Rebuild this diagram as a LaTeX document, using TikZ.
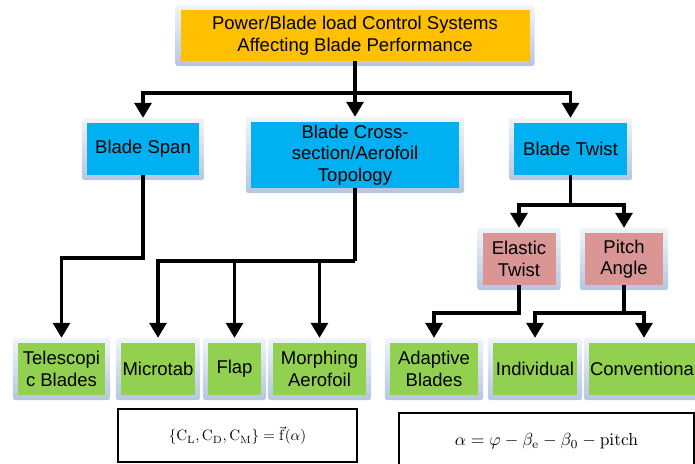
\documentclass[tikz,border=0pt]{standalone}
\usepackage[no-math]{fontspec}
\setmainfont{Liberation Sans}
\usepackage{amsmath}
\usepackage{graphicx}
\usepackage{tikz}
\usetikzlibrary{arrows.meta, positioning, calc, backgrounds}
\definecolor{topfill}{HTML}{FFC000}
\definecolor{bluefill}{HTML}{00B0F0}
\definecolor{rosefill}{HTML}{D99694}
\definecolor{greenfill}{HTML}{92D050}
\definecolor{glowtop}{HTML}{F1F4F9}
\definecolor{glowbot}{HTML}{B4C6DF}
\tikzstyle{box}     = [rectangle, draw=none, minimum height=52pt, align=center, inner sep=1pt,
                       font=\fontsize{18.5}{21.5}\selectfont]
\tikzstyle{headbox} = [box, fill=topfill,   minimum width=349pt, minimum height=51pt]
\tikzstyle{branch}  = [box, fill=bluefill]
\tikzstyle{twistbox}= [box, fill=rosefill]
\tikzstyle{leaf}    = [box, fill=greenfill]
\tikzstyle{eqbox}   = [rectangle, draw=black, line width=1.3pt, fill=white]
\tikzstyle{glow}    = [rounded corners=3pt, top color=glowtop, bottom color=glowbot]
\tikzstyle{arrow}   = [line width=3.2pt, -{Triangle[width=17pt,length=15pt]}, shorten >=5pt]
\tikzstyle{link}    = [line width=3.2pt]
\newcommand{\eqtext}[2]{\scalebox{#1}{#2}}

\begin{document}
\begin{tikzpicture}[x=1pt, y=-1pt]
  \useasboundingbox (0,0) rectangle (695,463);
  \clip (0,0) rectangle (695,463);

  % top level
  \node[headbox] (top) at (355,35.5) {Power/Blade load Control Systems\\Affecting Blade Performance};

  % second level
  \node[branch, minimum width=112pt] (span)  at (143,149) {Blade Span};
  \node[branch, minimum width=208pt, minimum height=66pt] (cross) at (355,155) {Blade Cross-\\section/Aerofoil\\Topology};
  \node[branch, minimum width=113pt] (twist) at (570.5,149) {Blade Twist};

  % twist split
  \node[twistbox, minimum width=73pt] (elastic) at (519,259) {Elastic\\Twist};
  \node[twistbox, minimum width=78pt] (pitch)   at (624,259) {Pitch\\Angle};

  % leaves
  \node[leaf, minimum width=87pt]  (tele)  at (61.5,369) {Telescopi\\c Blades};
  \node[leaf, minimum width=74pt]  (micro) at (158,369)  {Microtab};
  \node[leaf, minimum width=53pt]  (flap)  at (234.5,369) {Flap};
  \node[leaf, minimum width=93pt]  (morph) at (319.5,369) {Morphing\\Aerofoil};
  \node[leaf, minimum width=88pt]  (adapt) at (434,369)  {Adaptive\\Blades};
  \node[leaf, minimum width=84pt]  (indiv) at (535,369)  {Individual};
  \node[leaf, minimum width=110pt] (conv)  at (644,369)  {Conventional};

  % formulas
  \node[eqbox, minimum width=239pt, minimum height=53pt] (eqa) at (237.5,435.5)
       {\eqtext{1.5}{$\{\mathrm{C_L},\mathrm{C_D},\mathrm{C_M}\}=\vec{\mathrm{f}}(\alpha)$}};
  \node[eqbox, minimum width=295pt, minimum height=56pt] (eqb) at (546.5,441)
       {\eqtext{1.75}{$\alpha=\varphi-\beta_{\mathrm{e}}-\beta_0-\mathrm{pitch}$}};

  % glow behind the boxes
  \begin{scope}[on background layer]
    \foreach \n in {top,span,cross,twist,elastic,pitch,tele,micro,flap,morph,adapt,indiv,conv}
      \shade[glow] ([shift={(-5pt,5pt)}]\n.north west) rectangle ([shift={(5pt,-5pt)}]\n.south east);
  \end{scope}

  % junctions
  \coordinate (j1) at (355,93);
  \coordinate (j2) at (143,258);
  \coordinate (j3) at (355,261);
  \coordinate (j4) at (570.5,205);
  \coordinate (j5) at (519,313);
  \coordinate (j6) at (624,313);

  \draw[arrow] (top.south) -- (cross.north);
  \draw[arrow] (j1) -| (span.north);
  \draw[arrow] (j1) -| (twist.north);

  \draw[arrow] (span.south) -- (j2) -| (tele.north);

  \draw[link]  (cross.south) -- (j3);
  \draw[arrow] (j3) -| (micro.north);
  \draw[arrow] (flap.north |- j3) -- (flap.north);
  \draw[arrow] (morph.north |- j3) -- (morph.north);

  \draw[link]  (twist.south) -- (j4);
  \draw[arrow] (j4) -| (elastic.north);
  \draw[arrow] (j4) -| (pitch.north);

  \draw[arrow] (elastic.south) -- (j5) -| (adapt.north);

  \draw[link]  (pitch.south) -- (j6);
  \draw[arrow] (j6) -| (indiv.north);
  \draw[arrow] (j6) -| (conv.north);
\end{tikzpicture}
\end{document}
